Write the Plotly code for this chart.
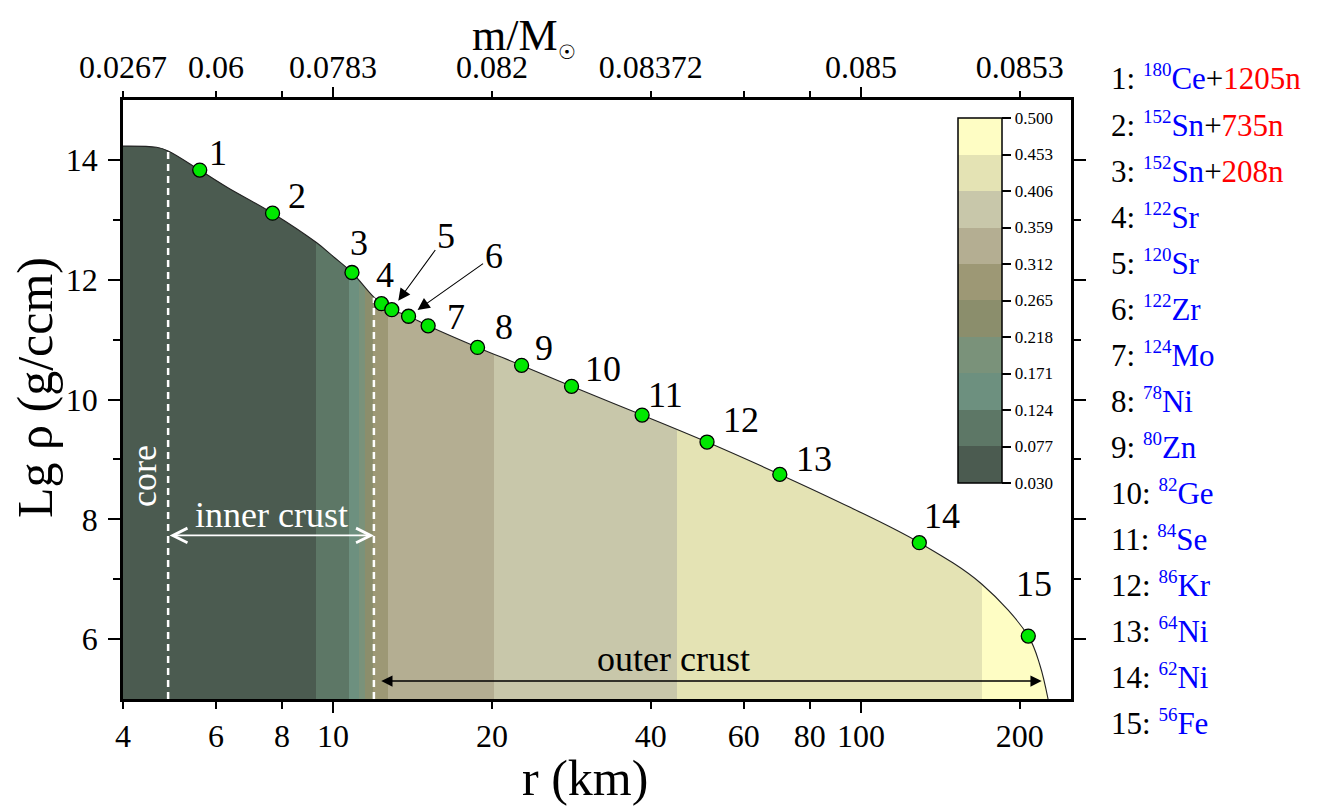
import numpy as np
import plotly.graph_objects as go

FONT = "Liberation Serif"

# ---------------- data ----------------
# density profile Lg rho (g/ccm) versus radius r (km)
curve_r = [4.0, 4.63, 4.87, 5.59, 6.31, 7.68, 9.30, 10.0, 10.86, 11.91, 12.35, 12.92, 13.90,
           15.14, 18.78, 22.76, 28.3, 38.5, 51.1, 70.2, 95.4, 129.0, 169.3, 207.5, 218.4, 226.2]
curve_lg = [14.23, 14.21, 14.15, 13.83, 13.54, 13.11, 12.62, 12.39, 12.12, 11.72, 11.60, 11.50, 11.39,
            11.23, 10.87, 10.57, 10.22, 9.74, 9.29, 8.75, 8.20, 7.61, 6.92, 6.05, 5.56, 5.0]

# marked nuclei (points 1..15)
pt_r = [5.59, 7.68, 10.86, 12.35, 12.92, 13.90, 15.14, 18.78, 22.76, 28.3, 38.5, 51.1, 70.2, 129.0, 207.5]
pt_lg = [13.83, 13.11, 12.12, 11.60, 11.50, 11.39, 11.23, 10.87, 10.57, 10.22, 9.74, 9.29, 8.75, 7.61, 6.05]
pt_labels = [str(i) for i in range(1, 16)]

# colour bands along r
band_edges = [4.0, 9.30, 10.73, 11.21, 11.48, 11.92, 12.72, 20.2, 44.8, 169.2, 250.0]
band_values = [0.05, 0.10, 0.15, 0.19, 0.24, 0.29, 0.335, 0.38, 0.43, 0.48]

cb_levels = [0.030, 0.077, 0.124, 0.171, 0.218, 0.265, 0.312, 0.359, 0.406, 0.453, 0.500]
cb_colors = ['#4b5b50', '#5d7766', '#6d907f', '#7a927a', '#8b8e6c',
             '#9d9875', '#b4ae92', '#c8c7aa', '#e4e3b4', '#fefdc4']

# axes
x_range = [4.0, 250.0]
y_range = [5.0, 15.0]
x_ticks = [4, 6, 8, 10, 20, 40, 60, 80, 100, 200]
x_ticklabels = ['4', '6', '8', '10', '20', '40', '60', '80', '100', '200']
x_major = [10, 100]
mass_ticklabels = ['0.0267', '0.06', '', '0.0783', '0.082', '0.08372', '', '', '0.085', '0.0853']
y_major = [6, 8, 10, 12, 14]
y_minor = [7, 9, 11, 13]

# legend of nuclei
mass_numbers = [180, 152, 152, 122, 120, 122, 124, 78, 80, 82, 84, 86, 64, 62, 56]
elements = ['Ce', 'Sn', 'Sn', 'Sr', 'Sr', 'Zr', 'Mo', 'Ni', 'Zn', 'Ge', 'Se', 'Kr', 'Ni', 'Ni', 'Fe']
free_neutrons = [1205, 735, 208, 0, 0, 0, 0, 0, 0, 0, 0, 0, 0, 0, 0]

# region boundaries
region_r = [4.87, 11.95]          # core / inner crust, inner / outer crust
region_top = [14.15, 11.70]
inner_arrow_lg = 7.73
outer_arrow_r = [12.26, 220.0]
outer_arrow_lg = 5.30

# ---------------- style (pixel offsets of labels) ----------------
label_dx = [18, 24, 7, 4, 0, 0, 28, 26, 22, 31, 23, 34, 34, 23, 6]
label_dy = [-17, -17, -30, -29, 0, 0, -9, -20, -17, -17, -20, -22, -15, -27, -52]
arrow_label = {4: (54, -74), 5: (85, -60)}

OFF = 8  # page body margin
L, R, T, B = 123, 1071, 100, 699   # plot area in screenshot pixels
W, H = R - L, B - T


def px_x(px):
    return (px - L) / W


def px_y(py):
    return (B - py) / H


lg = np.log10

fig = go.Figure()

# colour bands
n = len(cb_colors)
colorscale = []
for i, c in enumerate(cb_colors):
    colorscale.append([i / n, c])
    colorscale.append([(i + 1) / n, c])

fig.add_trace(go.Heatmap(
    x=band_edges, y=y_range, z=[band_values],
    zmin=cb_levels[0], zmax=cb_levels[-1], colorscale=colorscale,
    hoverinfo='skip',
    colorbar=dict(
        x=px_x(958), xanchor='left', y=px_y(118), yanchor='top',
        len=365 / H, lenmode='fraction', thickness=44, thicknessmode='pixels',
        xpad=0, ypad=0, outlinewidth=1.5, outlinecolor='black',
        tickvals=cb_levels, ticktext=[f'{v:.3f}' for v in cb_levels],
        ticks='outside', ticklen=9, tickwidth=1.5, tickcolor='black',
        tickfont=dict(family=FONT, size=17, color='black'),
    ),
))

# white mask above the curve (on the top axis, same range)
fig.add_trace(go.Scatter(
    x=[x_range[0], x_range[1], x_range[1]], y=[y_range[1], y_range[1], y_range[0]],
    xaxis='x2', yaxis='y',
    mode='lines', line=dict(width=0), hoverinfo='skip', showlegend=False))
fig.add_trace(go.Scatter(
    x=curve_r, y=curve_lg, xaxis='x2', yaxis='y', mode='lines', fill='tonexty', fillcolor='white',
    line=dict(color='#222222', width=1.1, shape='spline', smoothing=1.0),
    hoverinfo='skip', showlegend=False))

# dashed region boundaries
for rr, top in zip(region_r, region_top):
    fig.add_trace(go.Scatter(
        x=[rr, rr], y=[y_range[0], top], xaxis='x3', yaxis='y', mode='lines',
        line=dict(color='white', width=2.5, dash='7px,5px'),
        hoverinfo='skip', showlegend=False))

# points
fig.add_trace(go.Scatter(
    x=pt_r, y=pt_lg, xaxis='x4', yaxis='y', mode='markers',
    marker=dict(size=14, color='#00e800', line=dict(color='black', width=1.3)),
    hoverinfo='skip', showlegend=False, cliponaxis=False))

ann = []
for i in range(len(pt_r)):
    if i in arrow_label:
        ax_, ay_ = arrow_label[i]
        ann.append(dict(x=lg(pt_r[i]), y=pt_lg[i], xref='x', yref='y', text=pt_labels[i],
                        showarrow=True, ax=ax_, ay=ay_, arrowhead=2, arrowsize=2.2,
                        arrowwidth=1.1, arrowcolor='black', standoff=11,
                        xanchor='center', yanchor='middle',
                        font=dict(family=FONT, size=36, color='black')))
    else:
        ann.append(dict(x=lg(pt_r[i]), y=pt_lg[i], xref='x', yref='y', text=pt_labels[i],
                        showarrow=False, xshift=label_dx[i], yshift=-label_dy[i],
                        xanchor='center', yanchor='middle',
                        font=dict(family=FONT, size=36, color='black')))

# inner crust arrow + text
ann.append(dict(x=lg(region_r[1]), y=inner_arrow_lg, ax=lg(region_r[0]), ay=inner_arrow_lg,
                xref='x', yref='y', axref='x', ayref='y', text='', showarrow=True,
                arrowside='end+start', arrowhead=5, startarrowhead=5, arrowsize=1.6,
                startarrowsize=1.6, arrowwidth=1.8, arrowcolor='white'))
ann.append(dict(x=lg(np.sqrt(region_r[0] * region_r[1])), y=8.08, xref='x', yref='y',
                text='inner crust', showarrow=False, xanchor='center', yanchor='middle',
                font=dict(family=FONT, size=36, color='white')))
ann.append(dict(x=lg(4.38), y=8.72, xref='x', yref='y', text='core', textangle=-90,
                showarrow=False, xanchor='center', yanchor='middle',
                font=dict(family=FONT, size=36, color='white')))
# outer crust arrow + text
ann.append(dict(x=lg(outer_arrow_r[1]), y=outer_arrow_lg, ax=lg(outer_arrow_r[0]), ay=outer_arrow_lg,
                xref='x', yref='y', axref='x', ayref='y', text='', showarrow=True,
                arrowside='end+start', arrowhead=2, startarrowhead=2, arrowsize=1.5,
                startarrowsize=1.5, arrowwidth=1.5, arrowcolor='black'))
ann.append(dict(x=lg(44.2), y=5.67, xref='x', yref='y', text='outer crust', showarrow=False,
                xanchor='center', yanchor='middle',
                font=dict(family=FONT, size=36, color='black')))

# legend of nuclei on the right
for i in range(len(mass_numbers)):
    txt = (f"{i + 1}: <span style='color:#0000ff'><sup><span style='font-size:19px'>"
           f"{mass_numbers[i]}</span></sup>{elements[i]}</span>")
    if free_neutrons[i]:
        txt += f"+<span style='color:#ff0000'>{free_neutrons[i]}n</span>"
    ann.append(dict(x=px_x(1109), y=px_y(78 + 46.07 * i), xref='paper', yref='paper',
                    xanchor='left', yanchor='middle', text=txt, showarrow=False,
                    font=dict(family=FONT, size=31, color='black')))

# axis titles
ann.append(dict(x=px_x(35), y=px_y(388), xref='paper', yref='paper', text='Lg ρ (g/ccm)',
                textangle=-90, showarrow=False, xanchor='center', yanchor='middle',
                font=dict(family=FONT, size=50, color='black')))
ann.append(dict(x=px_x(585), y=px_y(778), xref='paper', yref='paper', text='r (km)',
                showarrow=False, xanchor='center', yanchor='middle',
                font=dict(family=FONT, size=50, color='black')))
ann.append(dict(x=px_x(524), y=px_y(37), xref='paper', yref='paper',
                text="m/M<sub><span style='font-size:20px'>☉</span></sub>",
                showarrow=False, xanchor='center', yanchor='middle',
                font=dict(family=FONT, size=44, color='black')))

tickfont = dict(family=FONT, size=32, color='black')
xr = [lg(x_range[0]), lg(x_range[1])]
common_x = dict(type='log', range=xr, showgrid=False, zeroline=False, tickcolor='black',
                tickwidth=2, ticks='outside')

fig.update_layout(
    width=1324, height=809,
    margin=dict(l=L - OFF, r=1324 - (R - OFF), t=T - OFF, b=809 - (B - OFF), autoexpand=False),
    paper_bgcolor='white', plot_bgcolor='white',
    font=dict(family=FONT, color='black'),
    showlegend=False,
    xaxis=dict(**common_x, tickvals=x_ticks, ticktext=x_ticklabels, ticklen=7,
               showline=True, linecolor='black', linewidth=2.5, tickfont=tickfont),
    xaxis2=dict(**common_x, overlaying='x', side='top', anchor='y', tickvals=x_ticks,
                ticktext=mass_ticklabels, ticklen=6, showline=True, linecolor='black',
                linewidth=2.5, tickfont=tickfont),
    xaxis3=dict(**common_x, overlaying='x', side='bottom', anchor='y', tickvals=x_major,
                ticklen=13, showline=False, showticklabels=False),
    xaxis4=dict(**common_x, overlaying='x', side='top', anchor='y', tickvals=x_major,
                ticklen=12, showline=False, showticklabels=False),
    yaxis=dict(range=y_range, tickvals=y_major, ticks='outside', ticklen=12, tickwidth=2,
               tickcolor='black', mirror='ticks', showline=True, linecolor='black',
               linewidth=2.5, showgrid=False, zeroline=False, tickfont=tickfont,
               ticklabelstandoff=4,
               minor=dict(tickmode='array', tickvals=y_minor, ticks='outside', ticklen=7,
                          tickwidth=2, tickcolor='black', showgrid=False)),
    annotations=ann,
)

fig.write_html("out.html")
